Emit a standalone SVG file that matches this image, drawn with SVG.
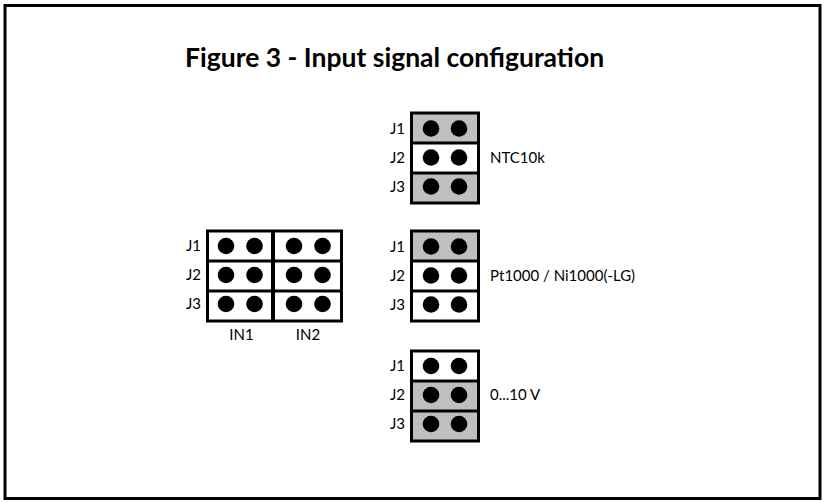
<svg xmlns="http://www.w3.org/2000/svg" width="825" height="502" viewBox="0 0 825 502">
<style>
.lbl{font-family:Lato,"Liberation Sans",sans-serif;font-size:15px;fill:#000}
.ttl{font-family:Lato,"Liberation Sans",sans-serif;font-size:26.5px;font-weight:bold;fill:#000}
.g{fill:#bfbfbf}
.w{fill:#fff}
.d{fill:#000}
</style>
<rect width="825" height="502" fill="#fff"/>
<rect x="5" y="5.5" width="815" height="493" fill="none" stroke="#000" stroke-width="3"/>
<text class="ttl" x="185" y="67">Figure 3 - Input signal configuration</text>

<g id="connectors"></g>

<g id="input-block">
<rect x="206" y="229.5" width="137" height="93" fill="#000"/>
<rect class="w" x="209" y="232.5" width="62" height="27"/>
<rect class="w" x="209" y="262.5" width="62" height="27"/>
<rect class="w" x="209" y="292.5" width="62" height="27"/>
<rect class="w" x="275" y="232.5" width="65" height="27"/>
<rect class="w" x="275" y="262.5" width="65" height="27"/>
<rect class="w" x="275" y="292.5" width="65" height="27"/>
<circle class="d" cx="226" cy="246" r="8.3"/><circle class="d" cx="254.5" cy="246" r="8.3"/>
<circle class="d" cx="294" cy="246" r="8.3"/><circle class="d" cx="322.5" cy="246" r="8.3"/>
<circle class="d" cx="226" cy="275" r="8.3"/><circle class="d" cx="254.5" cy="275" r="8.3"/>
<circle class="d" cx="294" cy="275" r="8.3"/><circle class="d" cx="322.5" cy="275" r="8.3"/>
<circle class="d" cx="226" cy="304" r="8.3"/><circle class="d" cx="254.5" cy="304" r="8.3"/>
<circle class="d" cx="294" cy="304" r="8.3"/><circle class="d" cx="322.5" cy="304" r="8.3"/>
<text class="lbl" x="201" y="251" text-anchor="end">J1</text>
<text class="lbl" x="201" y="280" text-anchor="end">J2</text>
<text class="lbl" x="201" y="309" text-anchor="end">J3</text>
<text class="lbl" x="241.5" y="340" text-anchor="middle">IN1</text>
<text class="lbl" x="308" y="340" text-anchor="middle">IN2</text>
</g>

<g id="ntc10k">
<rect x="410" y="111.5" width="70" height="93" fill="#000"/>
<rect class="g" x="413" y="114.5" width="64" height="27"/>
<rect class="w" x="413" y="144.5" width="64" height="27"/>
<rect class="g" x="413" y="174.5" width="64" height="27"/>
<circle class="d" cx="431" cy="128.5" r="8.3"/><circle class="d" cx="459" cy="128.5" r="8.3"/>
<circle class="d" cx="431" cy="157.5" r="8.3"/><circle class="d" cx="459" cy="157.5" r="8.3"/>
<circle class="d" cx="431" cy="186.5" r="8.3"/><circle class="d" cx="459" cy="186.5" r="8.3"/>
<text class="lbl" x="405" y="133.5" text-anchor="end">J1</text>
<text class="lbl" x="405" y="162.5" text-anchor="end">J2</text>
<text class="lbl" x="405" y="191.5" text-anchor="end">J3</text>
<text class="lbl" x="490" y="162.5">NTC10k</text>
</g>

<g id="pt1000">
<rect x="410" y="229.5" width="70" height="93" fill="#000"/>
<rect class="g" x="413" y="232.5" width="64" height="27"/>
<rect class="w" x="413" y="262.5" width="64" height="27"/>
<rect class="w" x="413" y="292.5" width="64" height="27"/>
<circle class="d" cx="431" cy="246.5" r="8.3"/><circle class="d" cx="459" cy="246.5" r="8.3"/>
<circle class="d" cx="431" cy="275.5" r="8.3"/><circle class="d" cx="459" cy="275.5" r="8.3"/>
<circle class="d" cx="431" cy="304.5" r="8.3"/><circle class="d" cx="459" cy="304.5" r="8.3"/>
<text class="lbl" x="405" y="251.5" text-anchor="end">J1</text>
<text class="lbl" x="405" y="280.5" text-anchor="end">J2</text>
<text class="lbl" x="405" y="309.5" text-anchor="end">J3</text>
<text class="lbl" x="490" y="280.5">Pt1000 / Ni1000(-LG)</text>
</g>

<g id="v0-10">
<rect x="410" y="349.5" width="70" height="93" fill="#000"/>
<rect class="w" x="413" y="352.5" width="64" height="27"/>
<rect class="g" x="413" y="382.5" width="64" height="27"/>
<rect class="g" x="413" y="412.5" width="64" height="27"/>
<circle class="d" cx="431" cy="366" r="8.3"/><circle class="d" cx="459" cy="366" r="8.3"/>
<circle class="d" cx="431" cy="395" r="8.3"/><circle class="d" cx="459" cy="395" r="8.3"/>
<circle class="d" cx="431" cy="424" r="8.3"/><circle class="d" cx="459" cy="424" r="8.3"/>
<text class="lbl" x="405" y="371" text-anchor="end">J1</text>
<text class="lbl" x="405" y="400" text-anchor="end">J2</text>
<text class="lbl" x="405" y="429" text-anchor="end">J3</text>
<text class="lbl" x="490" y="400">0...10 V</text>
</g>
</svg>
